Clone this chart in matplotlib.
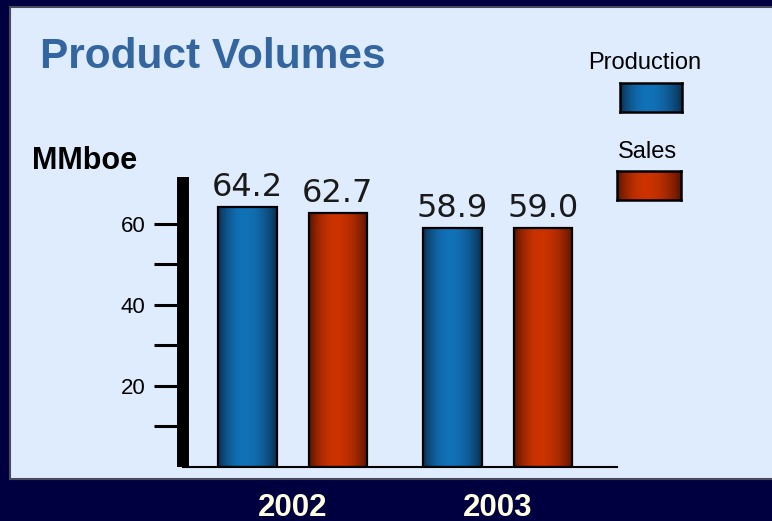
import numpy as np
import matplotlib
matplotlib.use("Agg")
import matplotlib.pyplot as plt
from matplotlib.patches import Rectangle
from matplotlib.transforms import blended_transform_factory

# ---- data ----
years = ["2002", "2003"]
series = ["Production", "Sales"]
production = [64.2, 58.9]
sales = [62.7, 59.0]
y_ticks_major = [20, 40, 60]
y_ticks_minor = [10, 30, 50]

# ---- styling ----
NAVY = "#000040"
PANEL = "#DFECFE"
TITLE_BLUE = "#33669E"
CREAM = "#FFFFE0"
BLUE_EDGE, BLUE_MID = "#0A2C4C", "#1172B8"
RED_EDGE, RED_MID = "#551300", "#CC3300"

W, H, DPI = 772, 521, 100
fig = plt.figure(figsize=(W / DPI, H / DPI), dpi=DPI, facecolor=NAVY)


def fx(px):
    return px / W


def fy(py):
    return 1 - py / H


def gradient(edge, mid, n=96, peak=0.45):
    e = np.array(matplotlib.colors.to_rgb(edge))
    m = np.array(matplotlib.colors.to_rgb(mid))
    t = np.linspace(0, 1, n)
    w = np.where(t < peak, t / peak, (1 - t) / (1 - peak))
    w = np.sin(w * np.pi / 2) ** 0.8
    return (e[None, :] + (m - e)[None, :] * w[:, None])[None, :, :]


# light panel behind the chart
fig.patches.append(Rectangle((fx(10), fy(479)), fx(800) - fx(10), fy(7) - fy(479),
                             transform=fig.transFigure, facecolor=PANEL,
                             edgecolor="#4A4A5A", linewidth=1.5, zorder=-5))

# title and unit label
fig.text(fx(40), fy(68), "Product Volumes", fontsize=30.5, fontweight="bold",
         color=TITLE_BLUE, family="Liberation Sans", va="baseline", ha="left")
fig.text(fx(32), fy(169), "MMboe", fontsize=22, fontweight="bold",
         color="black", family="Liberation Sans", va="baseline", ha="left")

# main axes
ax = fig.add_axes([fx(183), fy(467), fx(617) - fx(183), fy(177) - fy(467)])
ax.set_facecolor("none")

group_x = np.arange(len(years))
offset = 0.2207
bar_w = 0.285
ymax = 71.6

grads = [gradient(BLUE_EDGE, BLUE_MID), gradient(RED_EDGE, RED_MID)]
for k, vals in enumerate([production, sales]):
    xs = group_x + (-offset if k == 0 else offset)
    bars = ax.bar(xs, vals, width=bar_w, facecolor="none", edgecolor="black",
                  linewidth=1.6, zorder=3)
    for rect, v in zip(bars, vals):
        x0 = rect.get_x()
        im = ax.imshow(grads[k], extent=[x0, x0 + rect.get_width(), 0, v],
                       aspect="auto", interpolation="bilinear", zorder=2)
        im.set_clip_path(rect)
        ax.annotate(f"{v:.1f}", xy=(rect.get_x() + rect.get_width() / 2, v),
                    xytext=(0, 11), textcoords="offset pixels",
                    ha="center", va="baseline", fontsize=23,
                    family="DejaVu Sans", fontweight="normal", color="#1a1a1a")

ax.set_xlim(-0.535, 1.582)
ax.set_ylim(0, ymax)

for s in ["top", "right"]:
    ax.spines[s].set_visible(False)
ax.spines["left"].set_linewidth(8.6)
ax.spines["left"].set_capstyle("butt")
ax.spines["left"].set_color("black")
ax.spines["bottom"].set_linewidth(1.5)
ax.spines["bottom"].set_color("black")

ax.set_xticks([])
ax.set_yticks(y_ticks_major)
ax.set_yticks(y_ticks_minor, minor=True)
ax.set_yticklabels([str(t) for t in y_ticks_major])
ax.tick_params(axis="y", which="both", direction="out", length=21, width=2.2,
               color="black")
ax.tick_params(axis="y", which="major", pad=6, labelsize=16)
for lab in ax.get_yticklabels():
    lab.set_family("Liberation Sans")

# year labels under each group, on the dark band
trans = blended_transform_factory(ax.transData, fig.transFigure)
for gx, yr in zip(group_x, years):
    ax.text(gx, fy(515.5), yr, transform=trans, ha="center", va="baseline",
            fontsize=22.5, fontweight="bold", color=CREAM,
            family="Liberation Sans", clip_on=False)

# legend: label above a shaded swatch
legend_specs = [
    ("Production", 645, 69, (620, 83, 682, 112), grads[0]),
    ("Sales", 647, 158, (617, 171, 681, 200), grads[1]),
]
for name, tx, ty, (l, t, r, b), g in legend_specs:
    fig.text(fx(tx), fy(ty), name, fontsize=17, family="Liberation Sans",
             color="black", ha="center", va="baseline")
    sw = fig.add_axes([fx(l), fy(b), fx(r) - fx(l), fy(t) - fy(b)])
    sw.imshow(g, aspect="auto", interpolation="bilinear")
    sw.set_xticks([])
    sw.set_yticks([])
    for sp in sw.spines.values():
        sp.set_linewidth(1.8)
        sp.set_color("black")

fig.savefig("out.png", dpi=DPI, facecolor=NAVY)
